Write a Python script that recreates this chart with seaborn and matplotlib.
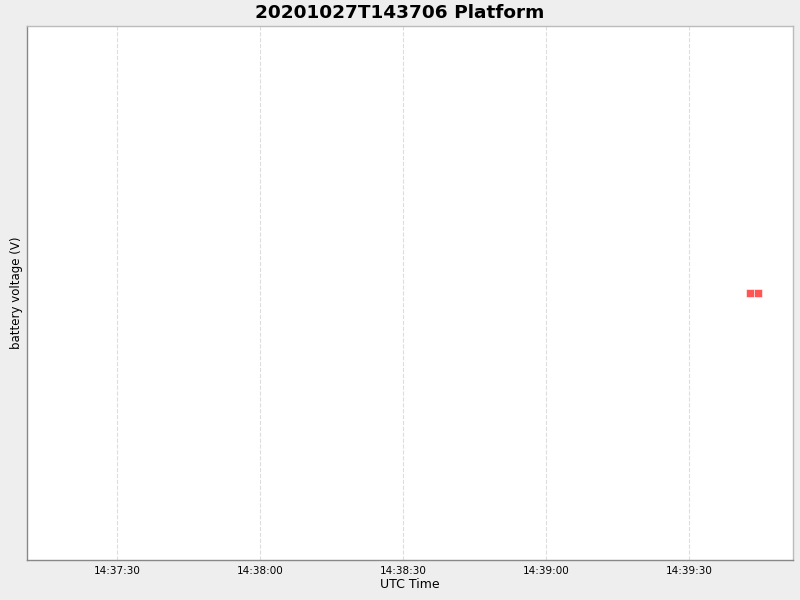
import pandas as pd
import matplotlib.pyplot as plt
import matplotlib.dates as mdates
import seaborn as sns

# data
times = ['2020-10-27 14:39:42.7', '2020-10-27 14:39:44.4']
voltage = [12.0, 12.0]

df = pd.DataFrame({'time': pd.to_datetime(times), 'voltage': voltage})

sns.set_style('white')
plt.rcParams['font.family'] = ['DejaVu Sans']
plt.rcParams['text.color'] = 'black'
plt.rcParams['axes.labelcolor'] = 'black'
plt.rcParams['xtick.color'] = 'black'

fig = plt.figure(figsize=(8, 6), dpi=100, facecolor='#EEEEEE')
ax = fig.add_axes([0.03375, 0.0667, 0.957, 0.89])
ax.set_facecolor('white')

sns.scatterplot(data=df, x='time', y='voltage', marker='s', s=28,
                color='#FF5555', edgecolor='white', linewidth=0.4, ax=ax)

ax.set_xlim(pd.Timestamp('2020-10-27 14:37:11.1'), pd.Timestamp('2020-10-27 14:39:51.7'))
ax.set_ylim(11.0, 13.0)

ax.xaxis.set_major_locator(mdates.SecondLocator(bysecond=[0, 30]))
ax.xaxis.set_major_formatter(mdates.DateFormatter('%H:%M:%S'))
ax.tick_params(axis='x', labelsize=7.5, length=2, color='#888888', labelcolor='black', pad=2)
ax.set_yticks([])

ax.grid(axis='x', color='#DDDDDD', linestyle='--', linewidth=0.8)
ax.set_axisbelow(True)

for side in ['top', 'right']:
    ax.spines[side].set_color('#BBBBBB')
for side in ['left', 'bottom']:
    ax.spines[side].set_color('#888888')
for sp in ax.spines.values():
    sp.set_linewidth(1.0)

ax.set_xlabel('UTC Time', fontsize=9, labelpad=2)
ax.set_ylabel('battery voltage (V)', fontsize=8.5, labelpad=3)
fig.suptitle('20201027T143706 Platform', fontsize=13.3, fontweight='bold', y=0.993)

fig.savefig('out.png', dpi=100, facecolor=fig.get_facecolor())
